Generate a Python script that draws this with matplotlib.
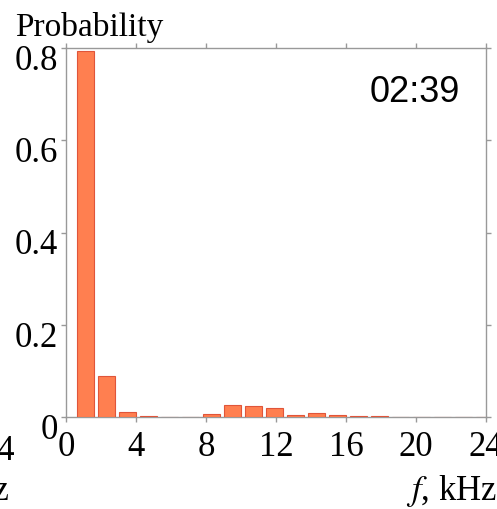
import matplotlib
matplotlib.use('Agg')
import matplotlib.pyplot as plt
import matplotlib.transforms as mtransforms

# Data: probability per 1.2 kHz frequency bin
bin_width = 1.2
probability = [0.794, 0.089, 0.011, 0.003, 0.0, 0.0, 0.007, 0.027, 0.0245, 0.020,
               0.005, 0.009, 0.004, 0.002, 0.002, 0.0, 0.0, 0.0, 0.0, 0.0]
bar_left = [0.63 + bin_width * i for i in range(len(probability))]
x_ticks = [0, 4, 8, 12, 16, 20, 24]
y_ticks = [0, 0.2, 0.4, 0.6, 0.8]
y_tick_labels = ['0', '0.2', '0.4', '0.6', '0.8']
time_label = '02:39'

plt.rcParams['font.family'] = ['Liberation Serif', 'DejaVu Serif']
plt.rcParams['mathtext.fontset'] = 'stix'

fig = plt.figure(figsize=(4.97, 5.10), dpi=100)
ax = fig.add_axes([66 / 497, 92 / 510, 420 / 497, 369 / 510])

ax.bar(bar_left, probability, width=0.95, align='edge',
       color='#FF7F50', edgecolor='#E0553A', linewidth=0.8, zorder=3)

ax.set_xlim(0, 24)
ax.set_ylim(0, 0.8)
ax.set_xticks(x_ticks)
ax.set_yticks(y_ticks)
ax.set_yticklabels(y_tick_labels)

axis_gray = '#999999'
for s in ax.spines.values():
    s.set_color(axis_gray)
    s.set_linewidth(1.0)
ax.tick_params(direction='out', length=3.5, width=1.0, color=axis_gray,
               top=True, right=True, labelsize=25, labelcolor='black')
ax.tick_params(axis='x', pad=6)
ax.tick_params(axis='y', pad=2)

# y tick labels sit a bit below their ticks
offset = mtransforms.ScaledTranslation(0, 3 / 72, fig.dpi_scale_trans)
for lab in ax.get_yticklabels():
    lab.set_verticalalignment('top')
    lab.set_transform(lab.get_transform() + offset)

fig.text(15 / 497, 1 - 36 / 510, 'Probability', fontsize=24, ha='left',
         va='baseline')
ax.text(0.938, 0.882, time_label, transform=ax.transAxes, fontsize=26,
        family='Liberation Sans', ha='right', va='center')
fig.text(1.0, 1 - 500 / 510, '$f$, kHz', fontsize=25, ha='right',
         va='baseline')

# cut-off pieces of the neighbouring panel on the left
fig.text(15 / 497, 1 - 460 / 510, '24', fontsize=25, ha='right',
         va='baseline')
fig.text(9 / 497, 1 - 500 / 510, 'kHz', fontsize=25, ha='right',
         va='baseline')

plt.savefig('out.png', dpi=100)
print("Saved out.png")
